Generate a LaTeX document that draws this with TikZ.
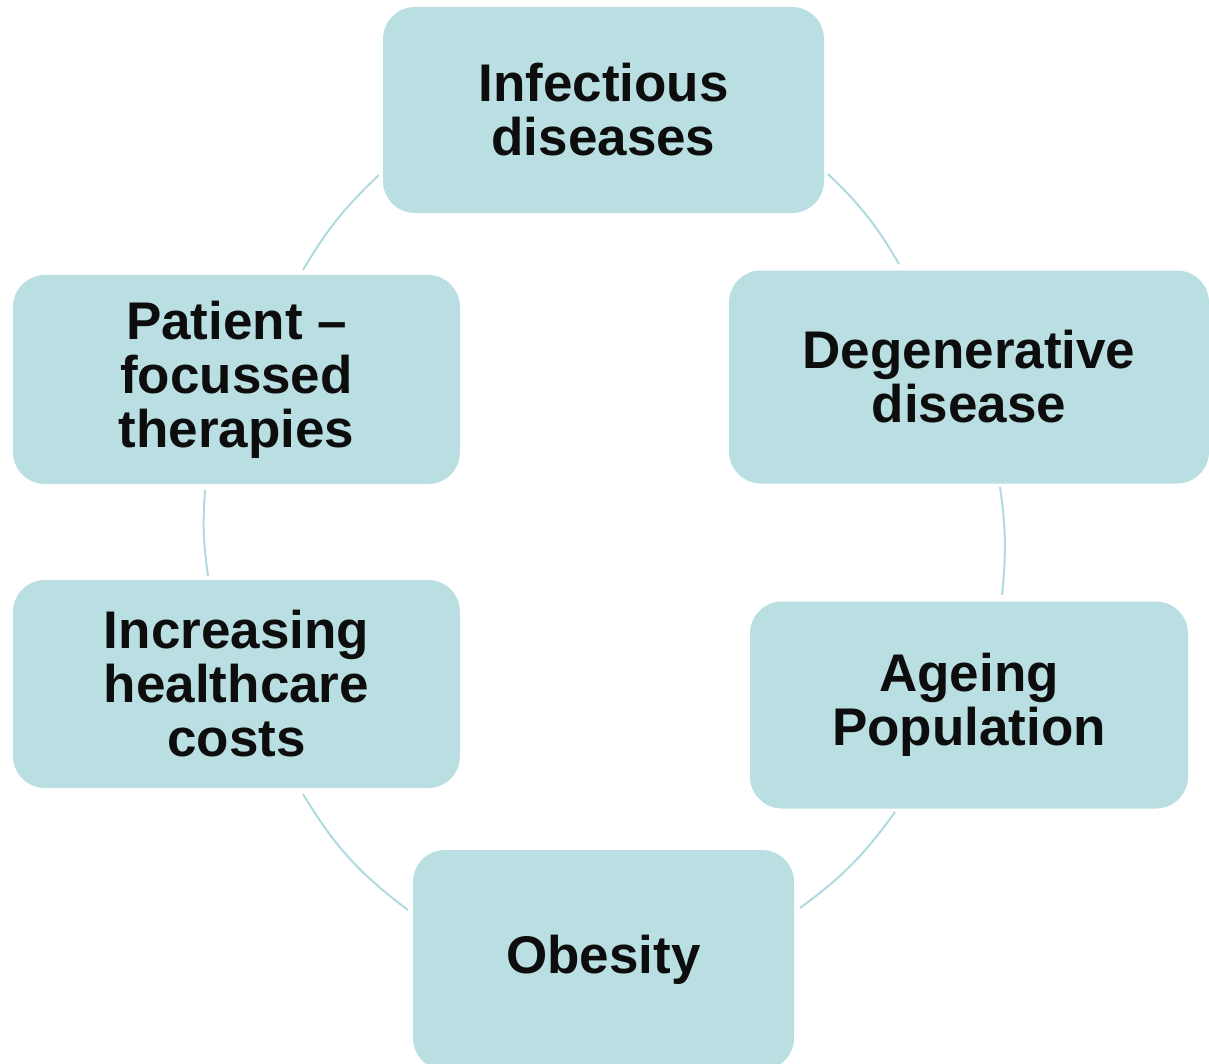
\documentclass[tikz,border=0pt]{standalone}
\usepackage{fontspec}
\setmainfont{Liberation Sans}
\definecolor{boxfill}{RGB}{186,223,227}
\definecolor{arccol}{RGB}{176,218,223}
\definecolor{txt}{RGB}{13,13,13}
\tikzset{
  cyclebox/.style={rectangle, rounded corners=32pt, fill=boxfill, draw=none,
    inner sep=0pt, align=center, text=txt,
    font=\fontsize{53}{54}\selectfont\bfseries},
  cyclearc/.style={draw=arccol, line width=2pt}
}
\begin{document}
\begin{tikzpicture}[x=1pt,y=-1pt]
\useasboundingbox (0,0) rectangle (1209,1063);
\node[cyclebox, minimum width=441pt, minimum height=206pt] (n1) at (603.5,110) {Infectious\\diseases};
\node[cyclebox, minimum width=480pt, minimum height=213pt] (n2) at (969,377) {Degenerative\\disease};
\node[cyclebox, minimum width=438pt, minimum height=207pt] (n3) at (969,705) {Ageing\\Population};
\node[cyclebox, minimum width=381pt, minimum height=220pt] (n4) at (603.5,960) {Obesity};
\node[cyclebox, minimum width=447pt, minimum height=208pt] (n5) at (236.5,684) {Increasing\\healthcare\\costs};
\node[cyclebox, minimum width=447pt, minimum height=209pt] (n6) at (236.5,379.5) {Patient --\\focussed\\therapies};
% arc end points
\coordinate (a1s) at (828,174);  \coordinate (a1e) at (899,264);
\coordinate (a2s) at (1000,487); \coordinate (a2e) at (1002,595);
\coordinate (a3s) at (895,812);  \coordinate (a3e) at (800,908);
\coordinate (a4s) at (408,910);  \coordinate (a4e) at (303,794);
\coordinate (a5s) at (208,576);  \coordinate (a5e) at (205,490);
\coordinate (a6s) at (303,270);  \coordinate (a6e) at (379,175);
\draw[cyclearc] (a1s) to[bend left=8] (a1e);
\draw[cyclearc] (a2s) to[bend left=7] (a2e);
\draw[cyclearc] (a3s) to[bend left=9] (a3e);
\draw[cyclearc] (a4s) to[bend left=11] (a4e);
\draw[cyclearc] (a5s) to[bend left=6] (a5e);
\draw[cyclearc] (a6s) to[bend left=8] (a6e);
\end{tikzpicture}
\end{document}
